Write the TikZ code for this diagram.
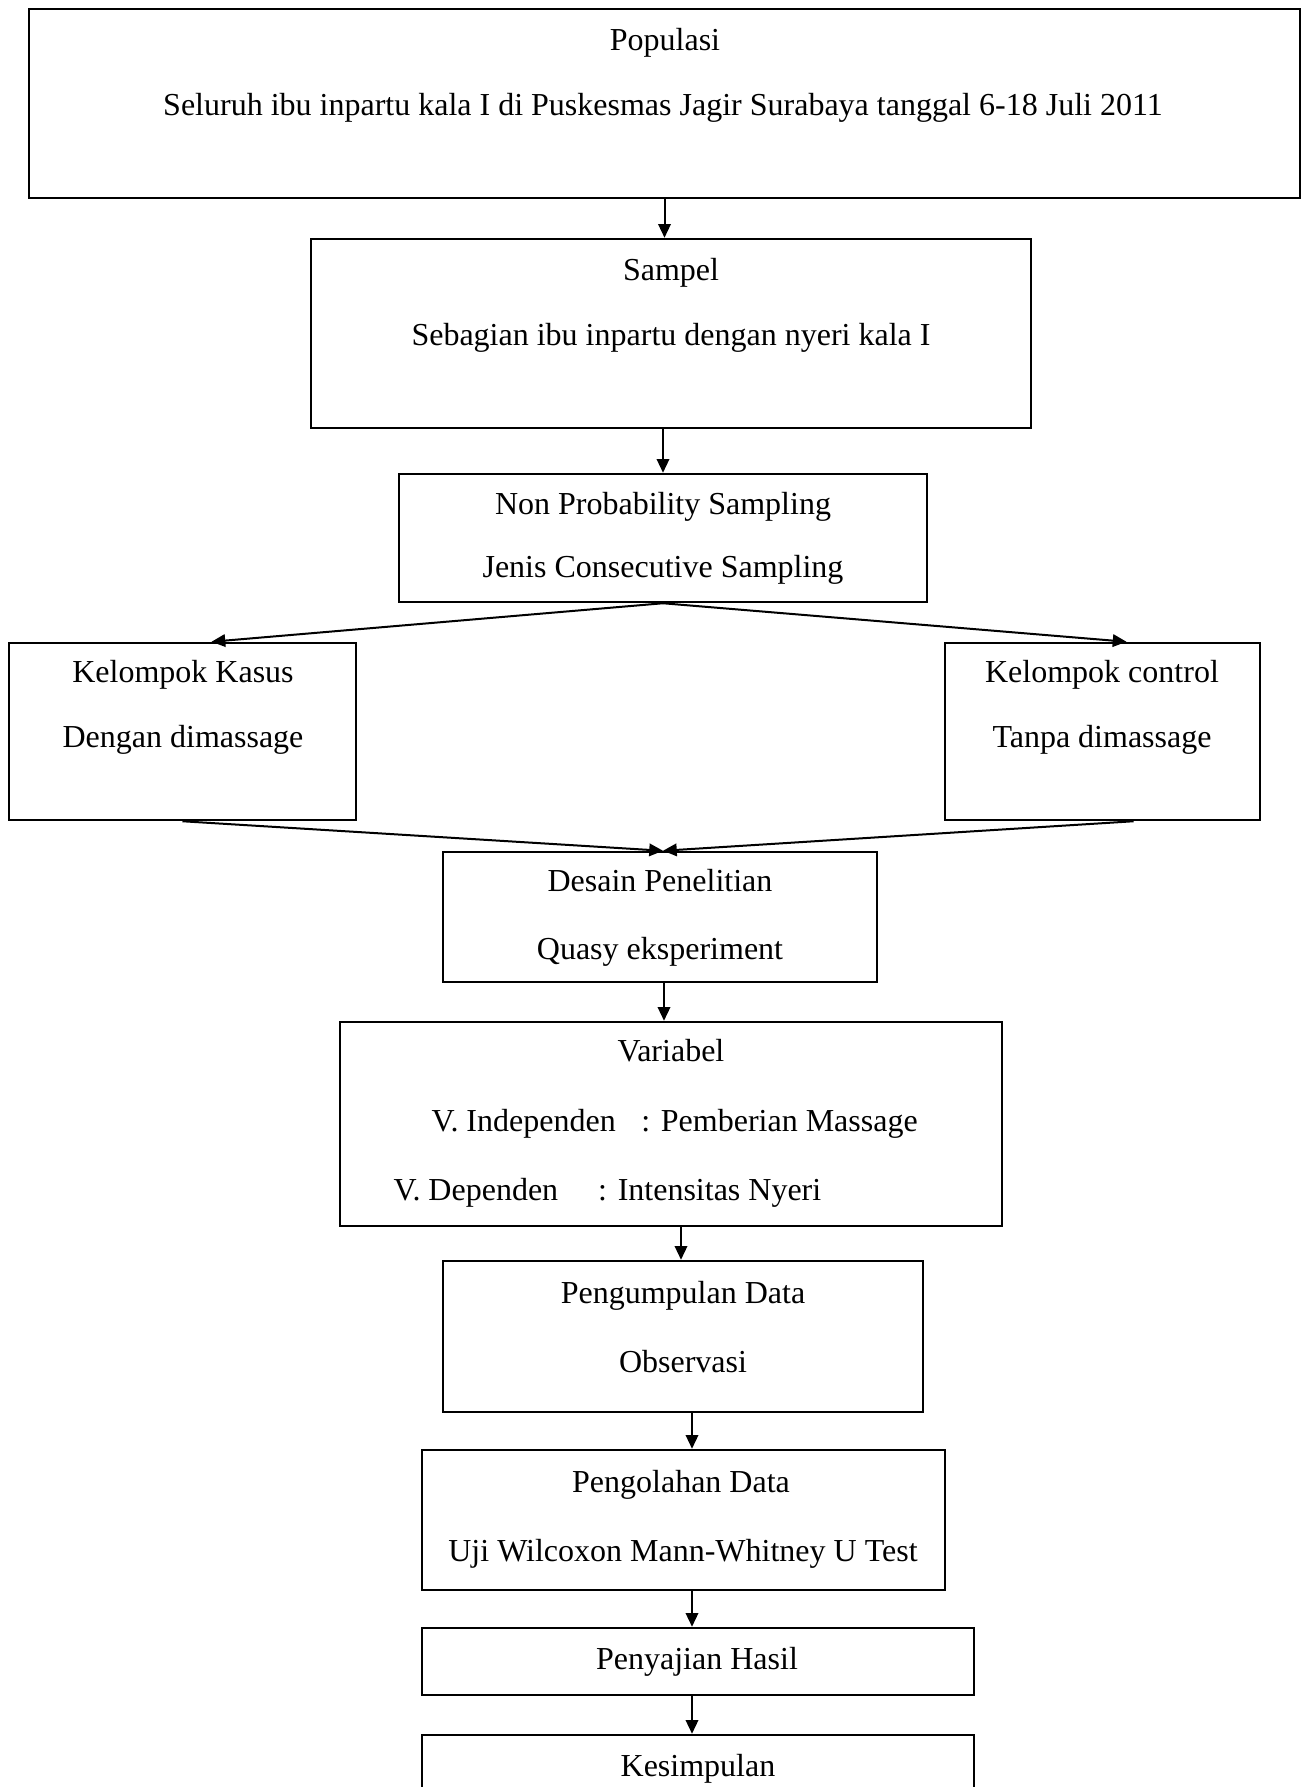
\documentclass[tikz,border=0pt]{standalone}
\usepackage{fontspec}
\setmainfont{Liberation Serif}
\usepackage{tikz}
\usetikzlibrary{arrows.meta,calc}

\newcommand{\px}{0.4pt}

\tikzset{
  kotak/.style={draw, line width=1pt, inner sep=0pt},
  teks/.style={inner sep=0pt, text height=1.5ex, text depth=.25ex, font=\fontsize{12.8}{15}\selectfont},
  panah/.style={->, line width=0.8pt}
}

\begin{document}
\begin{tikzpicture}[x=\px,y=-\px,>={Triangle[length=5.5pt,width=5pt]}]
  \useasboundingbox (0,0) rectangle (1308,1787);

  % kotak-kotak
  \node[kotak, minimum width=1271*\px, minimum height=189*\px] (pop)     at (664.5,103.5) {};
  \node[kotak, minimum width=720*\px,  minimum height=189*\px] (sampel)  at (671,333.5) {};
  \node[kotak, minimum width=528*\px,  minimum height=128*\px] (teknik)  at (663,538) {};
  \node[kotak, minimum width=347*\px,  minimum height=177*\px] (kasus)   at (182.5,731.5) {};
  \node[kotak, minimum width=315*\px,  minimum height=177*\px] (kontrol) at (1102.5,731.5) {};
  \node[kotak, minimum width=434*\px,  minimum height=130*\px] (desain)  at (660,917) {};
  \node[kotak, minimum width=662*\px,  minimum height=204*\px] (var)     at (671,1124) {};
  \node[kotak, minimum width=480*\px,  minimum height=151*\px] (kumpul)  at (683,1336.5) {};
  \node[kotak, minimum width=523*\px,  minimum height=140*\px] (olah)    at (683.5,1520) {};
  \node[kotak, minimum width=552*\px,  minimum height=67*\px]  (saji)    at (698,1661.5) {};
  \node[kotak, minimum width=552*\px,  minimum height=95*\px]  (simpul)  at (698,1782.5) {};

  % isi
  \node[teks] (pop1) at (665,43) {Populasi};
  \node[teks] (pop2) at (663,108) {Seluruh ibu inpartu kala I di Puskesmas Jagir Surabaya tanggal 6-18 Juli 2011};
  \node[teks] (sampel1) at (671,273) {Sampel};
  \node[teks] (sampel2) at (671,338) {Sebagian ibu inpartu dengan nyeri kala I};
  \node[teks] (teknik1) at (663,507) {Non Probability Sampling};
  \node[teks] (teknik2) at (663,570) {Jenis Consecutive Sampling};
  \node[teks] (kasus1) at (183,675) {Kelompok Kasus};
  \node[teks] (kasus2) at (183,740) {Dengan dimassage};
  \node[teks] (kontrol1) at (1102,675) {Kelompok control};
  \node[teks] (kontrol2) at (1102,740) {Tanpa dimassage};
  \node[teks] (desain1) at (660,884) {Desain Penelitian};
  \node[teks] (desain2) at (660,952) {Quasy eksperiment};
  \node[teks] (var1) at (671,1054) {Variabel};
  \node[teks, anchor=west] (var2) at (431,1124) {V. Independen\hspace{0.8em}: Pemberian Massage};
  \node[teks, anchor=west] (var3) at (393,1193) {V. Dependen\hspace{1.25em}: Intensitas Nyeri};
  \node[teks] (kumpul1) at (683,1296) {Pengumpulan Data};
  \node[teks] (kumpul2) at (683,1365) {Observasi};
  \node[teks] (olah1) at (681,1485) {Pengolahan Data};
  \node[teks] (olah2) at (683,1554) {Uji Wilcoxon Mann-Whitney U Test};
  \node[teks] (saji1) at (697,1662) {Penyajian Hasil};
  \node[teks] (simpul1) at (698,1769) {Kesimpulan};

  % panah
  \draw[panah] (pop.south) -- (pop.south |- sampel.north);
  \draw[panah] (teknik.north |- sampel.south) -- (teknik.north);
  \draw[panah] (teknik.south) -- ($(kasus.north)+(29,0)$);
  \draw[panah] (teknik.south) -- ($(kontrol.north)+(24,0)$);
  \draw[panah] (kasus.south) -- ($(desain.north)+(3,0)$);
  \draw[panah] ($(kontrol.south)+(31,0)$) -- ($(desain.north)+(3,0)$);
  \draw[panah] ($(desain.south)+(4,0)$) -- ($(var.north)+(-7,0)$);
  \draw[panah] ($(var.south)+(10,0)$) -- ($(kumpul.north)+(-2,0)$);
  \draw[panah] ($(kumpul.south)+(9,0)$) -- ($(olah.north)+(8.5,0)$);
  \draw[panah] ($(olah.south)+(8.5,0)$) -- ($(saji.north)+(-6,0)$);
  \draw[panah] ($(saji.south)+(-6,0)$) -- ($(simpul.north)+(-6,0)$);
\end{tikzpicture}
\end{document}
